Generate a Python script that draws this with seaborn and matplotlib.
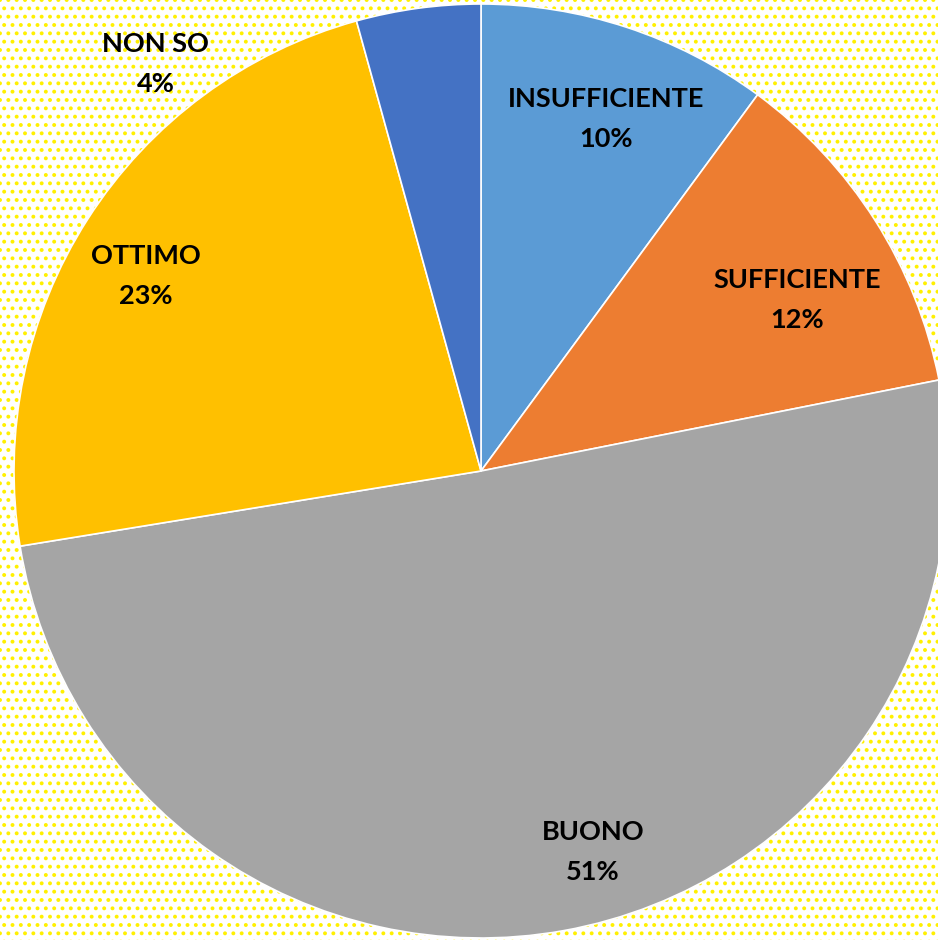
import numpy as np
import seaborn as sns
import matplotlib.pyplot as plt
from matplotlib.patches import Rectangle

# Data (clockwise from 12 o'clock)
categories = ["INSUFFICIENTE", "SUFFICIENTE", "BUONO", "OTTIMO", "NON SO"]
shares = [10.1, 11.8, 50.6, 23.3, 4.3]
colors = ["#5B9BD5", "#ED7D31", "#A5A5A5", "#FFC000", "#4472C4"]

sns.set_theme(style="white")
plt.rcParams['font.family'] = ['Lato', 'DejaVu Sans']

fig = plt.figure(figsize=(9.38, 9.40), dpi=100)
fig.patch.set_facecolor("white")

# dotted yellow background like the Excel pattern fill
plt.rcParams['hatch.color'] = "#FFF000"
plt.rcParams['hatch.linewidth'] = 1.6
bg = Rectangle((0, 0), 1, 1, transform=fig.transFigure, facecolor="white",
               edgecolor="#FFF000", hatch="..", linewidth=0, zorder=-10)
fig.patches.append(bg)

ax = fig.add_axes([14 / 938, 2 / 940, 934 / 938, 934 / 940])
ax.set_facecolor("none")

wedges, _ = ax.pie(shares, colors=colors, startangle=90, counterclock=False,
                   radius=1, wedgeprops=dict(edgecolor="white", linewidth=1.2))
ax.set_xlim(-1, 1)
ax.set_ylim(-1, 1)
ax.set_aspect("equal")
ax.axis("off")

total = sum(shares)
# label distance / angle tweak per slice (Excel "best fit" placement)
dist = [0.80, 0.77, 0.85, 0.83, 1.115]
shift = [1.4, 4.1, -6.1, -2.5, -30.9]  # degrees, clockwise positive
cum = 0
for cat, val, d, s in zip(categories, shares, dist, shift):
    mid = (cum + val / 2) / total * 360 + s
    cum += val
    ang = np.deg2rad(90 - mid)
    ax.text(d * np.cos(ang), d * np.sin(ang), f"{cat}\n{round(val / total * 100):.0f}%",
            ha="center", va="center", fontsize=19.5, fontweight="bold",
            color="black", linespacing=1.8, clip_on=False)

plt.savefig("out.png", dpi=100)
